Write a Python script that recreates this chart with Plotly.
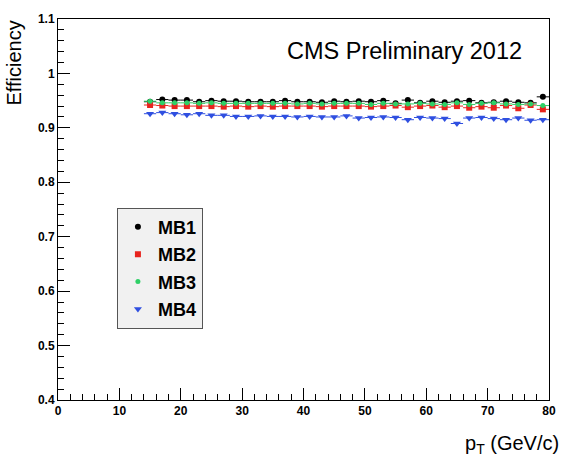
import plotly.graph_objects as go

pt = [15, 17, 19, 21, 23, 25, 27, 29, 31, 33, 35, 37, 39, 41, 43, 45, 47,
      49, 51, 53, 55, 57, 59, 61, 63, 65, 67, 69, 71, 73, 75, 77, 79]

mb1 = [0.948, 0.952, 0.951, 0.951, 0.948, 0.950, 0.949, 0.949, 0.948, 0.948, 0.948,
       0.950, 0.948, 0.948, 0.947, 0.949, 0.948, 0.949, 0.948, 0.950, 0.945, 0.951,
       0.946, 0.949, 0.947, 0.949, 0.950, 0.946, 0.947, 0.949, 0.947, 0.946, 0.957]
mb2 = [0.942, 0.941, 0.940, 0.940, 0.940, 0.940, 0.939, 0.940, 0.939, 0.940, 0.939,
       0.940, 0.940, 0.940, 0.939, 0.940, 0.940, 0.940, 0.939, 0.940, 0.941, 0.938,
       0.940, 0.941, 0.938, 0.940, 0.937, 0.939, 0.937, 0.941, 0.936, 0.942, 0.934]
mb3 = [0.949, 0.946, 0.946, 0.946, 0.945, 0.946, 0.945, 0.945, 0.945, 0.945, 0.945,
       0.945, 0.944, 0.945, 0.944, 0.945, 0.945, 0.945, 0.943, 0.945, 0.944, 0.944,
       0.945, 0.944, 0.943, 0.946, 0.943, 0.945, 0.946, 0.944, 0.943, 0.944, 0.941]
mb4 = [0.926, 0.928, 0.926, 0.924, 0.926, 0.923, 0.923, 0.921, 0.921, 0.922, 0.921,
       0.921, 0.920, 0.921, 0.920, 0.920, 0.922, 0.918, 0.919, 0.920, 0.919, 0.915,
       0.919, 0.918, 0.917, 0.908, 0.918, 0.919, 0.917, 0.915, 0.918, 0.914, 0.915]

names = ["MB1", "MB2", "MB3", "MB4"]
colors = ["#000000", "#e8231d", "#2fd067", "#2f4fe0"]
symbols = ["circle", "square", "circle", "triangle-down"]
sizes = [6, 6, 5, 7]

x_ticks = [0, 10, 20, 30, 40, 50, 60, 70, 80]
y_ticks = [0.4, 0.5, 0.6, 0.7, 0.8, 0.9, 1.0, 1.1]
y_labels = ["0.4", "0.5", "0.6", "0.7", "0.8", "0.9", "1", "1.1"]

fig = go.Figure()
for name, vals, c, s, sz in zip(names, [mb1, mb2, mb3, mb4], colors, symbols, sizes):
    fig.add_trace(go.Scatter(
        x=pt, y=vals, mode="markers", name=name, legendgroup=name,
        marker=dict(color=c, symbol=s, size=sz, line=dict(width=0)),
        error_x=dict(type="constant", value=1, color=c, thickness=1, width=0),
        error_y=dict(type="constant", value=0.002, color=c, thickness=1, width=0),
    ))

fig.update_layout(
    width=568, height=457,
    margin=dict(l=58, r=19, t=14, b=57),
    paper_bgcolor="white", plot_bgcolor="white",
    font=dict(family="Liberation Sans", color="black"),
    showlegend=True,
    legend=dict(
        x=0.12, y=0.505, xanchor="left", yanchor="top",
        bgcolor="#f1f1f1", bordercolor="#555555", borderwidth=1,
        font=dict(size=18, family="Liberation Sans", weight="bold"),
        itemsizing="trace", tracegroupgap=1, entrywidth=120,
    ),
    xaxis=dict(
        range=[0, 80], tickvals=x_ticks, ticks="inside", ticklen=12,
        tickcolor="black", showline=True, linecolor="black", linewidth=1,
        mirror=True, showgrid=False, zeroline=False,
        tickfont=dict(size=12, weight="bold"),
        minor=dict(dtick=2, ticks="inside", ticklen=6, tickcolor="black", showgrid=False),
    ),
    yaxis=dict(
        range=[0.4, 1.1], tickvals=y_ticks, ticktext=y_labels, ticks="inside",
        ticklen=12, tickcolor="black", showline=True, linecolor="black",
        linewidth=1, mirror=True, showgrid=False, zeroline=False,
        tickfont=dict(size=12, weight="bold"),
        minor=dict(dtick=0.02, ticks="inside", ticklen=6, tickcolor="black", showgrid=False),
    ),
    annotations=[
        dict(text="CMS Preliminary 2012", xref="paper", yref="paper",
             x=0.95, y=0.915, xanchor="right", yanchor="middle", showarrow=False,
             font=dict(size=23.5, family="Liberation Sans")),
        dict(text="Efficiency", xref="paper", yref="paper", textangle=-90,
             x=-0.118, y=1.0, xanchor="left", yanchor="top", showarrow=False,
             font=dict(size=20, family="Liberation Sans")),
        dict(text="p<sub>T</sub> (GeV/c)", xref="paper", yref="paper",
             x=1.025, y=-0.08, xanchor="right", yanchor="top", showarrow=False,
             font=dict(size=20, family="Liberation Sans")),
    ],
)

fig.write_html("out.html")
